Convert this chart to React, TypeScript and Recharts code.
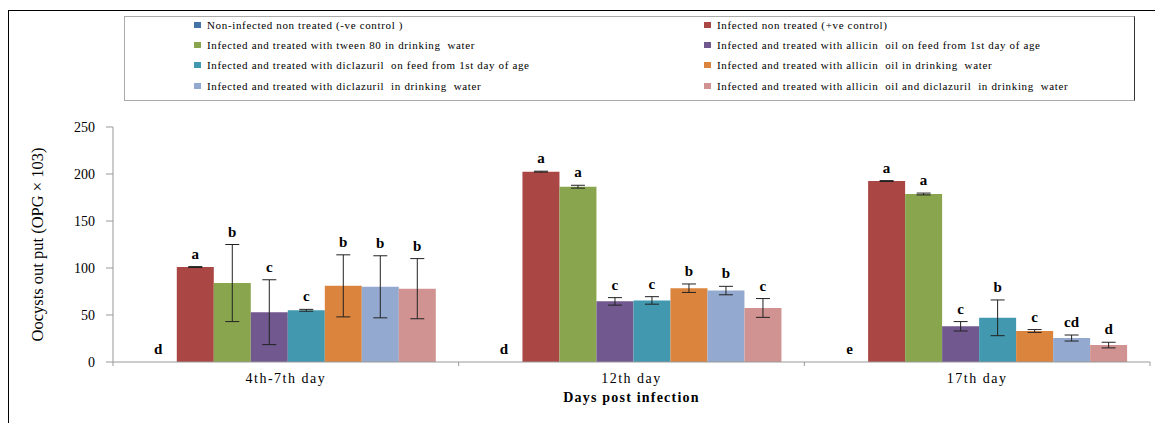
import { BarChart, Bar, XAxis, YAxis, ErrorBar, LabelList } from "recharts";

const categories = ["4th-7th day", "12th day", "17th day"];

const seriesNames = [
  "Non-infected non treated (-ve control )",
  "Infected non treated (+ve control)",
  "Infected and treated with tween 80 in drinking  water",
  "Infected and treated with allicin  oil on feed from 1st day of age",
  "Infected and treated with diclazuril  on feed from 1st day of age",
  "Infected and treated with allicin  oil in drinking  water",
  "Infected and treated with diclazuril  in drinking  water",
  "Infected and treated with allicin  oil and diclazuril  in drinking  water",
];

const seriesColors = ["#4572A7", "#AA4643", "#89A54E", "#71588F", "#4198AF", "#DB843D", "#93A9CF", "#D19392"];

// mean oocyst counts per group (x10^3)
const nonInfected = [0, 0, 0];
const posControl = [101, 202.5, 192.5];
const tween80 = [84, 186.5, 178.7];
const allicinFeed = [53, 64.5, 38];
const diclazurilFeed = [55, 65.5, 47];
const allicinWater = [81, 78.5, 33];
const diclazurilWater = [80, 76, 25.5];
const combinedWater = [78, 57.5, 18];

// standard errors
const nonInfectedErr = [0, 0, 0];
const posControlErr = [0.5, 0.5, 0.5];
const tween80Err = [41, 1.5, 1];
const allicinFeedErr = [34.5, 4, 5];
const diclazurilFeedErr = [1, 4, 19];
const allicinWaterErr = [33, 4.5, 1.5];
const diclazurilWaterErr = [33, 4.5, 3.2];
const combinedWaterErr = [32, 10, 3];

// significance letters
const nonInfectedSig = ["d", "d", "e"];
const posControlSig = ["a", "a", "a"];
const tween80Sig = ["b", "a", "a"];
const allicinFeedSig = ["c", "c", "c"];
const diclazurilFeedSig = ["c", "c", "b"];
const allicinWaterSig = ["b", "b", "c"];
const diclazurilWaterSig = ["b", "b", "cd"];
const combinedWaterSig = ["b", "c", "d"];

const yTicks = [0, 50, 100, 150, 200, 250];

const seriesValues = [nonInfected, posControl, tween80, allicinFeed, diclazurilFeed, allicinWater, diclazurilWater, combinedWater];
const seriesErrors = [nonInfectedErr, posControlErr, tween80Err, allicinFeedErr, diclazurilFeedErr, allicinWaterErr, diclazurilWaterErr, combinedWaterErr];
const seriesLetters = [nonInfectedSig, posControlSig, tween80Sig, allicinFeedSig, diclazurilFeedSig, allicinWaterSig, diclazurilWaterSig, combinedWaterSig];

const data = categories.map((day, c) => {
  const row: Record<string, string | number> = { day };
  seriesValues.forEach((vals, s) => {
    row[`v${s}`] = vals[c];
    row[`e${s}`] = seriesErrors[s][c];
    row[`l${s}`] = seriesLetters[s][c];
  });
  return row;
});

const FONT = '"Liberation Serif", "Times New Roman", serif';
const W = 1155;
const H = 423;
const PLOT_LEFT = 113;
const PLOT_RIGHT = 1150;
const PLOT_TOP = 127;
const PLOT_BOTTOM = 362;
const Y_MAX = 250;
const PX_PER_UNIT = (PLOT_BOTTOM - PLOT_TOP) / Y_MAX;
const BAND = (PLOT_RIGHT - PLOT_LEFT) / categories.length;

function letterLabel(s: number) {
  return (props: any) => {
    const { x, y, width, height, index, value } = props;
    // bars of zero value keep their letter sitting on the baseline
    const barTop = Math.min(y, y + (height || 0));
    const top = barTop - seriesErrors[s][index] * PX_PER_UNIT;
    return (
      <text x={x + width / 2} y={top - 8} textAnchor="middle" fontSize={15} fontWeight="bold" fontFamily={FONT} fill="#000">
        {value}
      </text>
    );
  };
}

function CategoryTick({ x, y, payload, index }: any) {
  return (
    <g>
      {index === 0 && <line x1={x - BAND / 2} x2={x - BAND / 2} y1={y} y2={y + 4} stroke="#999" />}
      <line x1={x + BAND / 2} x2={x + BAND / 2} y1={y} y2={y + 4} stroke="#999" />
      <text x={x} y={y + 21} textAnchor="middle" fontSize={14} letterSpacing={1.5} fontFamily={FONT} fill="#000">
        {payload.value}
      </text>
    </g>
  );
}

function YTitle({ viewBox }: any) {
  const cx = 37;
  const cy = viewBox.y + viewBox.height / 2;
  return (
    <text
      x={cx}
      y={cy}
      transform={`rotate(-90 ${cx} ${cy})`}
      textAnchor="middle"
      dominantBaseline="central"
      fontSize={16.5}
      fontFamily={FONT}
      fill="#000"
    >
      Oocysts out put (OPG {"\u00d7"} 103)
    </text>
  );
}

function Legend() {
  return (
    <div
      style={{
        position: "absolute",
        left: 124,
        top: 16,
        width: 1009,
        height: 83,
        border: "1px solid #aaa",
        borderRight: "1.5px solid #333",
        background: "#fff",
        fontFamily: FONT,
        fontSize: 11,
        letterSpacing: 0.65,
      }}
    >
      {seriesNames.map((name, i) => (
        <div
          key={name}
          style={{
            position: "absolute",
            left: i % 2 === 0 ? 69 : 579,
            top: 0.5 + Math.floor(i / 2) * 20.4,
            display: "flex",
            alignItems: "center",
            whiteSpace: "pre",
            height: 14,
          }}
        >
          <span style={{ width: 7, height: 6, background: seriesColors[i], marginRight: 6, display: "inline-block" }} />
          <span>{name}</span>
        </div>
      ))}
    </div>
  );
}

export default function App() {
  return (
    <div style={{ position: "relative", width: W, height: H, background: "#fff", overflow: "hidden" }}>
      <style>{`body{margin:0}`}</style>
      <div style={{ position: "absolute", left: 8, top: 10, right: 0, bottom: 0, borderTop: "1.5px solid #000", borderLeft: "1.5px solid #000" }} />
      <Legend />
      <div style={{ position: "absolute", left: 0, top: 0 }}>
        <BarChart
          width={W}
          height={H}
          data={data}
          margin={{ top: PLOT_TOP, right: W - PLOT_RIGHT, bottom: 0, left: 0 }}
          barCategoryGap="7.75%"
          barGap={0}
        >
          <XAxis
            dataKey="day"
            height={H - PLOT_BOTTOM}
            axisLine={{ stroke: "#999" }}
            tickLine={false}
            tickSize={0}
            tickMargin={0}
            interval={0}
            tick={<CategoryTick />}
            label={{
              value: "Days post infection",
              position: "insideBottom",
              offset: 21,
              fontSize: 14,
              fontWeight: "bold",
              letterSpacing: 1.2,
              fontFamily: FONT,
              fill: "#000",
            }}
          />
          <YAxis
            width={PLOT_LEFT}
            domain={[0, Y_MAX]}
            ticks={yTicks}
            interval={0}
            axisLine={{ stroke: "#999" }}
            tickLine={{ stroke: "#999" }}
            tickSize={7}
            tickMargin={11}
            tick={{ fill: "#000", fontSize: 14, fontFamily: FONT }}
            label={<YTitle />}
          />
          {seriesNames.map((name, s) => (
            <Bar key={name} dataKey={`v${s}`} name={name} fill={seriesColors[s]} minPointSize={0.01} isAnimationActive={false}>
              <ErrorBar dataKey={`e${s}`} width={7} stroke="#222" strokeWidth={1} />
              <LabelList dataKey={`l${s}`} content={letterLabel(s)} />
            </Bar>
          ))}
        </BarChart>
      </div>
    </div>
  );
}
